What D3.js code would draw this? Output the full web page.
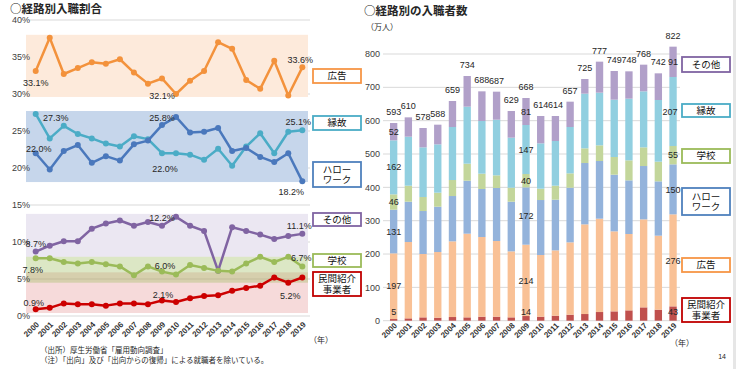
<!DOCTYPE html>
<html>
<head>
<meta charset="utf-8">
<script src="https://cdn.jsdelivr.net/npm/d3@7"></script>
<style>
  body { margin: 0; background: #fff; }
  svg text { font-family: "Liberation Sans", Arial, "Noto Sans CJK JP", sans-serif; fill: #262626; }
  svg text.jp { font-family: "Noto Sans CJK JP", sans-serif; }
</style>
</head>
<body>
<svg id="chart" width="736" height="369"></svg>
<script>
// categories
const years = ["2000","2001","2002","2003","2004","2005","2006","2007","2008","2009",
               "2010","2011","2012","2013","2014","2015","2016","2017","2018","2019"];

// left chart: share by route (%)
const shareAd      = [33.1,37.6,32.7,33.5,34.3,34.1,34.7,32.9,31.4,32.1,30.0,31.8,33.1,37.0,36.1,31.9,30.7,34.5,29.8,33.6];
const shareConn    = [27.3,24.0,25.7,24.6,24.0,23.3,22.9,24.3,23.9,22.0,22.0,21.8,21.1,22.6,20.3,22.9,24.7,22.0,24.9,25.1];
const shareHW      = [22.0,19.8,22.3,23.1,20.7,21.6,21.0,23.2,23.7,25.8,26.9,24.8,24.9,25.4,22.3,22.7,21.5,20.8,22.0,18.2];
const shareOther   = [8.7,9.5,10.1,10.1,11.8,12.5,12.9,12.2,12.7,12.2,13.4,12.2,11.5,6.1,12.0,11.5,11.0,10.4,10.8,11.1];
const shareSchool  = [7.8,7.8,7.3,7.1,7.3,7.0,6.7,5.5,6.7,6.0,5.6,6.9,6.5,6.1,6.0,7.1,8.0,7.3,8.0,6.7];
const sharePrivate = [0.9,1.1,1.7,1.6,1.6,1.4,1.7,1.7,1.6,2.1,1.9,2.4,2.7,2.8,3.4,3.8,4.1,5.2,4.5,5.2];
const leftTicks = [0,5,10,15,20,25,30,35,40];

// right chart: number of hires (10k persons)
const cntPrivate = [5,7,10,9,11,10,12,12,10,14,12,15,18,20,26,28,31,40,33,43];
const cntAd      = [197,229,190,197,227,251,239,227,198,214,185,196,217,269,280,240,229,264,222,276];
const cntHW      = [131,121,129,136,136,159,144,159,149,172,165,152,164,184,173,170,161,160,163,150];
const cntSchool  = [46,48,42,42,48,51,46,38,42,40,34,42,43,44,47,53,60,56,59,55];
const cntConn    = [162,147,149,145,159,171,158,167,150,147,136,134,139,164,158,172,185,168,185,207];
const cntOther   = [52,58,58,59,78,92,89,84,80,81,82,75,76,44,93,86,82,80,80,91];
const totals     = [593,610,578,588,659,734,688,687,629,668,614,614,657,725,777,749,748,768,742,822];
const rightTicks = [0,100,200,300,400,500,600,700,800];

const svg = d3.select("#chart");

// titles / notes
svg.append("text").attr("class", "jp").attr("x", 10).attr("y", 13)
  .attr("font-size", 11.5).attr("font-weight", "bold").text("○経路別入職割合");
svg.append("text").attr("class", "jp").attr("x", 364).attr("y", 15)
  .attr("font-size", 11.5).attr("font-weight", "bold").text("○経路別の入職者数");
svg.append("text").attr("class", "jp").attr("x", 366).attr("y", 30)
  .attr("font-size", 8).text("（万人）");
svg.append("text").attr("class", "jp").attr("x", 40).attr("y", 353)
  .attr("font-size", 7.5).text("（出所）厚生労働省「雇用動向調査」");
svg.append("text").attr("class", "jp").attr("x", 40).attr("y", 363)
  .attr("font-size", 7.5).text("（注）「出向」及び「出向からの復帰」による就職者を除いている。");
svg.append("text").attr("x", 726).attr("y", 359).attr("font-size", 7)
  .attr("text-anchor", "end").text("14");
svg.append("rect").attr("x", 733).attr("y", 0).attr("width", 3).attr("height", 369)
  .attr("fill", "#e6e6e6");

// ---------- left: line chart ----------
const xL = d3.scalePoint().domain(years).range([35.7, 302.3]);
const yL = d3.scaleLinear().domain([0, 40]).range([316, 20]);

// grid
svg.append("g").selectAll("line").data(leftTicks).enter().append("line")
  .attr("x1", 28).attr("x2", 310)
  .attr("y1", d => yL(d)).attr("y2", d => yL(d))
  .attr("stroke", "#d9d9d9").attr("stroke-width", 1);

// background bands (top %, bottom %)
const bands = [
  { top: 38.0, bottom: 29.6, fill: "#fdeadb", op: 1 },
  { top: 27.7, bottom: 18.1, fill: "#c6d6eb", op: 1 },
  { top: 13.8, bottom: 8.0,  fill: "#ebe7f2", op: 1 },
  { top: 5.9,  bottom: 0.4,  fill: "#e69696", op: 0.35 },
  { top: 8.0,  bottom: 4.5,  fill: "#9bbb59", op: 0.35 }
];
svg.append("g").selectAll("rect").data(bands).enter().append("rect")
  .attr("x", 26).attr("width", 282)
  .attr("y", d => yL(d.top))
  .attr("height", d => yL(d.bottom) - yL(d.top))
  .attr("fill", d => d.fill).attr("fill-opacity", d => d.op);

svg.append("g").selectAll("text").data(leftTicks).enter().append("text")
  .attr("x", 30).attr("y", d => yL(d)).attr("dy", "0.35em")
  .attr("text-anchor", "end").attr("font-size", 9).style("fill", "#404040")
  .text(d => d + "%");

const lineSeries = [
  { name: "縁故", values: shareConn, color: "#4bacc6",
    labels: [[0, 20, 4], [9, 3, 16], [19, -4, -8]] },
  { name: "ハローワーク", values: shareHW, color: "#4a78bc",
    labels: [[0, 3, -4], [9, 0, -7], [19, -11, 11]] },
  { name: "広告", values: shareAd, color: "#f3923c",
    labels: [[0, 0, 12], [9, 0, 18], [19, -2, -7]] },
  { name: "その他", values: shareOther, color: "#8064a2",
    labels: [[0, 0, -8], [9, 0, -8], [19, -3, -8]] },
  { name: "学校", values: shareSchool, color: "#9bbb59",
    labels: [[0, -3, 12], [9, 3, -6], [19, -1, -8]] },
  { name: "民間", values: sharePrivate, color: "#cc0000",
    labels: [[0, -2, -6], [9, 1, -5], [19, -12, 18]] }
];

const line = d3.line().x((d, i) => xL(years[i])).y(d => yL(d));

lineSeries.forEach(s => {
  let g = svg.append("g");
  g.append("path").datum(s.values).attr("d", line)
    .attr("fill", "none").attr("stroke", s.color).attr("stroke-width", 2.5)
    .attr("stroke-linejoin", "round");
  g.selectAll("circle").data(s.values).enter().append("circle")
    .attr("cx", (d, i) => xL(years[i])).attr("cy", d => yL(d))
    .attr("r", 3).attr("fill", s.color);
});
lineSeries.forEach(s => {
  svg.append("g").selectAll("text").data(s.labels).enter().append("text")
    .attr("x", d => xL(years[d[0]]) + d[1])
    .attr("y", d => yL(s.values[d[0]]) + d[2] + 3)
    .attr("text-anchor", "middle").attr("font-size", 9)
    .text(d => s.values[d[0]].toFixed(1) + "%");
});

// x labels
svg.append("g").selectAll("text").data(years).enter().append("text")
  .attr("transform", d => "translate(" + (xL(d) + 4) + ",325) rotate(-45)")
  .attr("text-anchor", "end").attr("font-size", 8).attr("font-weight", "bold")
  .style("fill", "#333").text(d => d);
svg.append("text").attr("class", "jp").attr("x", 309).attr("y", 343)
  .attr("font-size", 8).text("（年）");

// legend boxes
const leftLegend = [
  { lines: ["広告"], color: "#f79646", y: 69, h: 14 },
  { lines: ["縁故"], color: "#4bacc6", y: 116, h: 14 },
  { lines: ["ハロー", "ワーク"], color: "#4f81bd", y: 162, h: 25 },
  { lines: ["その他"], color: "#8064a2", y: 213, h: 13 },
  { lines: ["学校"], color: "#9bbb59", y: 254, h: 13 },
  { lines: ["民間紹介", "事業者"], color: "#c00000", y: 272, h: 24 }
];
const rightLegend = [
  { lines: ["その他"], color: "#8064a2", y: 57, h: 15 },
  { lines: ["縁故"], color: "#4bacc6", y: 104, h: 13 },
  { lines: ["学校"], color: "#9bbb59", y: 149, h: 14 },
  { lines: ["ハロー", "ワーク"], color: "#4f81bd", y: 188, h: 27 },
  { lines: ["広告"], color: "#f79646", y: 258, h: 14 },
  { lines: ["民間紹介", "事業者"], color: "#c00000", y: 298, h: 24 }
];

function drawLegend(items, x0, w) {
  let g = svg.append("g").selectAll("g").data(items).enter().append("g");
  g.append("rect")
    .attr("x", x0).attr("y", d => d.y).attr("width", w).attr("height", d => d.h)
    .attr("fill", "#fff").attr("stroke", d => d.color).attr("stroke-width", 1.8);
  // one text element per box, lines as tspans
  g.append("text")
    .attr("class", "jp")
    .attr("text-anchor", "middle").attr("font-size", 9.5)
    .style("fill", "#111")
    .each(function (d) {
      let n = d.lines.length;
      d3.select(this).selectAll("tspan").data(d.lines).enter().append("tspan")
        .attr("x", x0 + w / 2)
        .attr("y", (t, i) => d.y + d.h / 2 + (i - (n - 1) / 2) * 10.5 + 3.4)
        .text(t => t);
    });
}
drawLegend(leftLegend, 313, 48);

// ---------- right: stacked bars ----------
const xR = d3.scaleBand().domain(years).range([386.3, 680.4])
  .paddingInner(0.5).paddingOuter(0.25);
const yR = d3.scaleLinear().domain([0, 800]).range([320.7, 54]);

svg.append("g").selectAll("line").data(rightTicks).enter().append("line")
  .attr("x1", 383).attr("x2", 680)
  .attr("y1", d => yR(d)).attr("y2", d => yR(d))
  .attr("stroke", "#d9d9d9").attr("stroke-width", 1);

svg.append("g").selectAll("text").data(rightTicks).enter().append("text")
  .attr("x", 380).attr("y", d => yR(d)).attr("dy", "0.35em")
  .attr("text-anchor", "end").attr("font-size", 9).style("fill", "#404040")
  .text(d => d);

const barSeries = [
  { key: "private", values: cntPrivate, color: "#c0504d" },
  { key: "ad",      values: cntAd,      color: "#f9c196" },
  { key: "hw",      values: cntHW,      color: "#94b3db" },
  { key: "school",  values: cntSchool,  color: "#c3d69b" },
  { key: "conn",    values: cntConn,    color: "#91cfe0" },
  { key: "other",   values: cntOther,   color: "#b1a0c9" }
];
const table = years.map((y, i) => {
  let row = { year: y };
  barSeries.forEach(s => { row[s.key] = s.values[i]; });
  return row;
});
const stack = d3.stack().keys(barSeries.map(s => s.key))(table);

svg.append("g").selectAll("g").data(stack).enter().append("g")
  .attr("fill", (d, i) => barSeries[i].color)
  .selectAll("rect").data(d => d).enter().append("rect")
  .attr("x", d => xR(d.data.year))
  .attr("width", xR.bandwidth())
  .attr("y", d => yR(d[1]))
  .attr("height", d => yR(d[0]) - yR(d[1]));

// totals above bars
svg.append("g").selectAll("text").data(totals).enter().append("text")
  .attr("x", (d, i) => xR(years[i]) + xR.bandwidth() / 2)
  .attr("y", d => yR(d) - 8)
  .attr("text-anchor", "middle").attr("font-size", 9)
  .text(d => d);

// segment labels for 2000, 2009, 2019
const labelYears = [0, 9, 19];
stack.forEach((layer, k) => {
  svg.append("g").selectAll("text").data(labelYears).enter().append("text")
    .attr("x", i => xR(years[i]) + xR.bandwidth() / 2 - (i == 19 && k == 4 ? 3 : 0))
    .attr("y", i => {
      let mid = (layer[i][0] + layer[i][1]) / 2;
      if (k == 0) mid = Math.max(mid, 28);
      return yR(mid);
    })
    .attr("dy", "0.35em")
    .attr("text-anchor", "middle").attr("font-size", 9)
    .text(i => barSeries[k].values[i]);
});

svg.append("g").selectAll("text").data(years).enter().append("text")
  .attr("transform", d => "translate(" + (xR(d) + xR.bandwidth() / 2 + 4) + ",326) rotate(-45)")
  .attr("text-anchor", "end").attr("font-size", 8).attr("font-weight", "bold")
  .style("fill", "#333").text(d => d);
svg.append("text").attr("class", "jp").attr("x", 670).attr("y", 346)
  .attr("font-size", 8).text("（年）");

drawLegend(rightLegend, 682, 48);
</script>
</body>
</html>
